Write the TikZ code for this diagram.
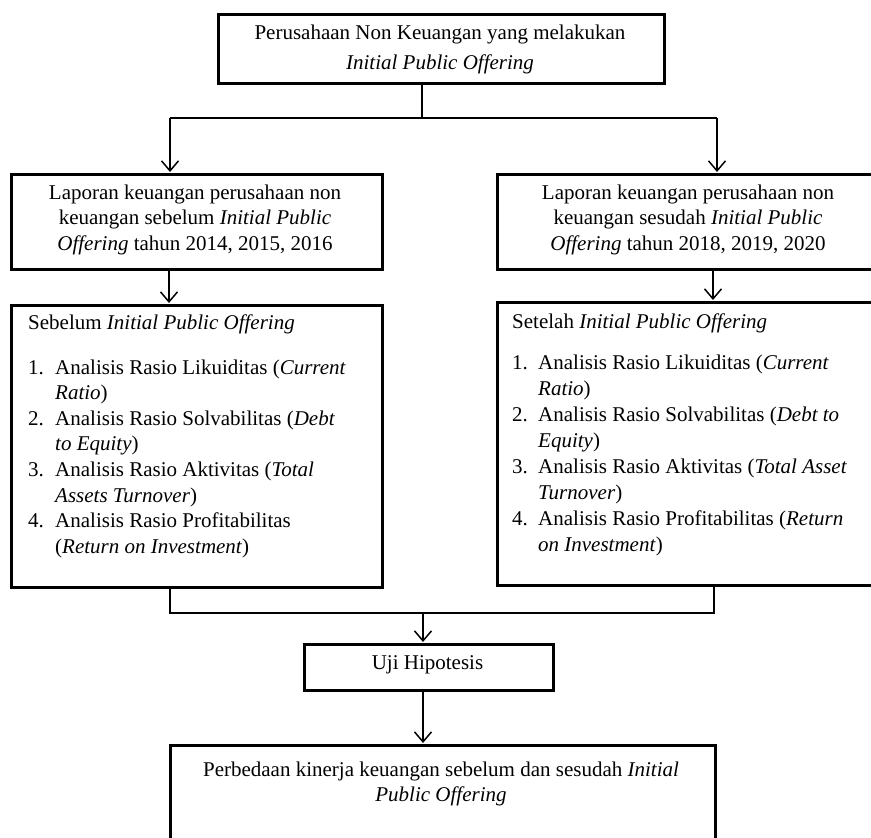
\documentclass[tikz,border=0pt]{standalone}
\usepackage{fontspec}
\setmainfont{Liberation Serif}
\usetikzlibrary{arrows.meta}
\begin{document}
\begin{tikzpicture}[x=1pt,y=-1pt,
  box/.style={draw, line width=2.8pt, inner sep=0pt, anchor=north west},
  conn/.style={line width=1.5pt},
  arr/.style={conn, -{Straight Barb[length=10pt,width=17pt]}, shorten >=1pt},
  txt/.style={inner sep=0pt, font=\fontsize{21}{25.5}\selectfont}]
\useasboundingbox (0,0) rectangle (871,838);
\clip (0,0) rectangle (871,838);
% boxes
\node[box, minimum width=446pt, minimum height=69pt] (top) at (217,13) {};
\node[box, minimum width=371pt, minimum height=95pt] (L1) at (10,173) {};
\node[box, minimum width=390pt, minimum height=95pt] (R1) at (496,173) {};
\node[box, minimum width=371pt, minimum height=282pt] (L2) at (10,304) {};
\node[box, minimum width=390pt, minimum height=283pt] (R2) at (496,301) {};
\node[box, minimum width=249pt, minimum height=46pt] (uji) at (303,643) {};
\node[box, minimum width=545pt, minimum height=130pt] (fin) at (169,744) {};
% texts
\node[txt, anchor=base] (ttop) at (440,39) {\fontsize{21}{30}\selectfont\begin{tabular}[t]{@{}c@{}}Perusahaan Non Keuangan yang melakukan\\ \textit{Initial Public Offering}\end{tabular}};
\node[txt, anchor=base] (tL1) at (195,199) {\begin{tabular}[t]{@{}c@{}}Laporan keuangan perusahaan non\\ keuangan sebelum \textit{Initial Public}\\ \textit{Offering} tahun 2014, 2015, 2016\end{tabular}};
\node[txt, anchor=base] (tR1) at (688,199) {\begin{tabular}[t]{@{}c@{}}Laporan keuangan perusahaan non\\ keuangan sesudah \textit{Initial Public}\\ \textit{Offering} tahun 2018, 2019, 2020\end{tabular}};
\node[txt, anchor=base west] (tL2) at (28,329) {\fontsize{21}{25.6}\selectfont\begin{tabular}[t]{@{}p{27pt}@{}l@{}}
\multicolumn{2}{@{}l@{}}{Sebelum \textit{Initial Public Offering}}\\[19.4pt]
1. & Analisis Rasio Likuiditas (\textit{Current}\\
   & \textit{Ratio})\\
2. & Analisis Rasio Solvabilitas (\textit{Debt}\\
   & \textit{to Equity})\\
3. & Analisis Rasio Aktivitas (\textit{Total}\\
   & \textit{Assets Turnover})\\
4. & Analisis Rasio Profitabilitas\\
   & (\textit{Return on Investment})
\end{tabular}};
\node[txt, anchor=base west] (tR2) at (512,328) {\fontsize{21}{26}\selectfont\begin{tabular}[t]{@{}p{26pt}@{}l@{}}
\multicolumn{2}{@{}l@{}}{Setelah \textit{Initial Public Offering}}\\[15pt]
1. & Analisis Rasio Likuiditas (\textit{Current}\\
   & \textit{Ratio})\\
2. & Analisis Rasio Solvabilitas (\textit{Debt to}\\
   & \textit{Equity})\\
3. & Analisis Rasio Aktivitas (\textit{Total Asset}\\
   & \textit{Turnover})\\
4. & Analisis Rasio Profitabilitas (\textit{Return}\\
   & \textit{on Investment})
\end{tabular}};
\node[txt, anchor=base] (tuji) at (427.5,669) {Uji Hipotesis};
\node[txt, anchor=base] (tfin) at (441,776) {\fontsize{21}{25}\selectfont\begin{tabular}[t]{@{}c@{}}Perbedaan kinerja keuangan sebelum dan sesudah \textit{Initial}\\ \textit{Public Offering}\end{tabular}};
% connector coordinates
\coordinate (s1) at (422,118);
\coordinate (jl) at (170,118);
\coordinate (jr) at (717,118);
\coordinate (xl) at (169,0);
\coordinate (xr) at (713,0);
\coordinate (bl) at (170,613);
\coordinate (br) at (714,613);
\coordinate (bm) at (423,613);
% connectors
\draw[conn] (s1 |- top.south) -- (s1);
\draw[conn] (jl) -- (jr);
\draw[arr] (jl) -- (jl |- L1.north);
\draw[arr] (jr) -- (jr |- R1.north);
\draw[arr] (xl |- L1.south) -- (xl |- L2.north);
\draw[arr] (xr |- R1.south) -- (xr |- R2.north);
\draw[conn] (bl |- L2.south) -- (bl) -- (br) -- (br |- R2.south);
\draw[arr] (bm) -- (bm |- uji.north);
\draw[arr] (bm |- uji.south) -- (bm |- fin.north);
\end{tikzpicture}
\end{document}
